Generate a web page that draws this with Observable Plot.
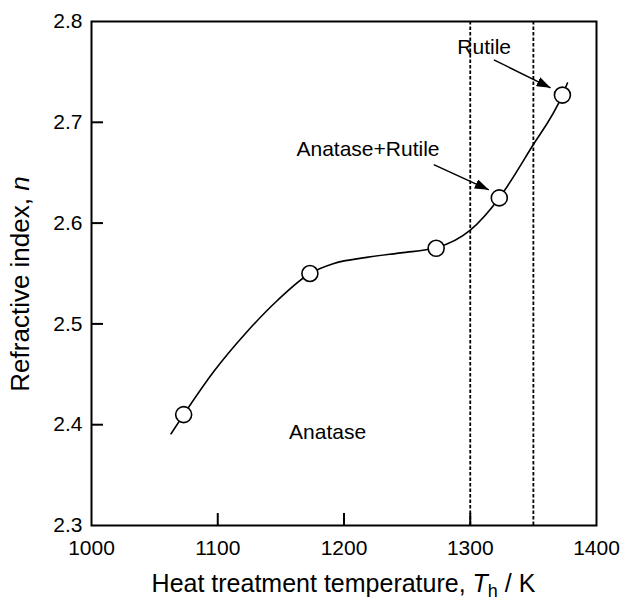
<!DOCTYPE html>
<html>
<head>
<meta charset="utf-8">
<script src="https://cdn.jsdelivr.net/npm/d3@7"></script>
<script src="https://cdn.jsdelivr.net/npm/@observablehq/plot@0.6"></script>
<style>
  html, body { margin: 0; padding: 0; background: #fff; }
  svg { display: block; }
</style>
</head>
<body>
<div id="chart"></div>
<script>
// Measured points (heat treatment temperature in K, refractive index n)
const temperature = [1073, 1173, 1273, 1323, 1373];
const refractiveIndex = [2.41, 2.55, 2.575, 2.625, 2.727];

// Smooth guide curve
const curveT = [1063, 1073, 1097, 1123, 1147, 1173, 1192, 1218, 1245, 1273, 1300, 1323, 1348, 1373, 1377];
const curveN = [2.391, 2.410, 2.453, 2.492, 2.523, 2.550, 2.560, 2.566, 2.5705, 2.5755, 2.593, 2.625, 2.674, 2.727, 2.739];

// Phase boundaries (dotted lines)
const phaseBoundaries = [1300, 1350];

// Tick values
const xTicks = [1000, 1100, 1200, 1300, 1400];
const yTicks = [2.3, 2.4, 2.5, 2.6, 2.7, 2.8];

// Annotations
const labelText = ["Rutile", "Anatase+Rutile", "Anatase"];
const labelT = [1311, 1219, 1187];
const labelN = [2.774, 2.673, 2.392];

const arrowFromT = [1318.7, 1271.1];
const arrowFromN = [2.762, 2.658];
const arrowToT = [1363.6, 1314.7];
const arrowToN = [2.7342, 2.633];

// Build tables
const points = temperature.map((t, i) => ({t, n: refractiveIndex[i]}));
const curve = curveT.map((t, i) => ({t, n: curveN[i]}));
const labels = labelText.map((s, i) => ({s, t: labelT[i], n: labelN[i]}));
const arrows = arrowFromT.map((t, i) => ({t1: t, n1: arrowFromN[i], t2: arrowToT[i], n2: arrowToN[i]}));

const W = 623, H = 601;
const mTop = 21, mBottom = 76, mLeft = 91, mRight = 27;
const innerW = W - mLeft - mRight, innerH = H - mTop - mBottom;
const tickLen = 12;

const chart = Plot.plot({
  width: W,
  height: H,
  marginTop: mTop,
  marginBottom: mBottom,
  marginLeft: mLeft,
  marginRight: mRight,
  style: {fontFamily: "'Liberation Sans', Arial, sans-serif", fontSize: "21px", background: "#fff", color: "#000"},
  x: {domain: [xTicks[0], xTicks[xTicks.length - 1]], ticks: xTicks, tickSize: 0, tickPadding: 15, tickFormat: d => String(d), label: null},
  y: {domain: [yTicks[0], yTicks[yTicks.length - 1]], ticks: yTicks, tickSize: 0, tickPadding: 9, tickFormat: d => d.toFixed(1), label: null},
  marks: [
    Plot.ruleX(phaseBoundaries, {stroke: "#000", strokeWidth: 1.8, strokeDasharray: "3.5,2"}),
    Plot.line(curve, {x: "t", y: "n", curve: "monotone-x", stroke: "#000", strokeWidth: 1.6}),
    Plot.dot(points, {x: "t", y: "n", r: 8, fill: "#fff", stroke: "#000", strokeWidth: 1.6}),
    Plot.ruleX(xTicks.slice(1, -1), {insetTop: innerH - tickLen, stroke: "#000", strokeWidth: 2}),
    Plot.ruleY(yTicks.slice(1, -1), {insetRight: innerW - tickLen, stroke: "#000", strokeWidth: 2}),
    Plot.frame({stroke: "#000", strokeWidth: 2}),
    Plot.link(arrows, {x1: "t1", y1: "n1", x2: "t2", y2: "n2", stroke: "#000", strokeWidth: 1.5}),
    Plot.text(labels, {x: "t", y: "n", text: "s", fontSize: 21, fill: "#000", textAnchor: "middle"})
  ]
});

// Filled arrowheads
const svg = d3.select(chart);
const defs = svg.append("defs");
defs.append("marker")
  .attr("id", "arrowhead")
  .attr("viewBox", "0 -5 14 10")
  .attr("refX", 14)
  .attr("refY", 0)
  .attr("markerUnits", "userSpaceOnUse")
  .attr("markerWidth", 14)
  .attr("markerHeight", 10)
  .attr("orient", "auto")
  .append("path")
  .attr("d", "M0,-5L14,0L0,5Z")
  .attr("fill", "#000");
svg.selectAll('g[aria-label="link"] path').attr("marker-end", "url(#arrowhead)");

// Axis titles
const xt = svg.append("text")
  .attr("x", mLeft + innerW / 2)
  .attr("y", 592)
  .attr("text-anchor", "middle")
  .attr("font-size", 25)
  .attr("fill", "#000");
xt.append("tspan").text("Heat treatment temperature, ");
xt.append("tspan").attr("font-style", "italic").text("T");
xt.append("tspan").attr("font-size", 18).attr("dy", 5).text("h");
xt.append("tspan").attr("dy", -5).text(" / K");

const yt = svg.append("text")
  .attr("transform", "translate(29,284) rotate(-90)")
  .attr("text-anchor", "middle")
  .attr("font-size", 26)
  .attr("fill", "#000");
yt.append("tspan").text("Refractive index, ");
yt.append("tspan").attr("font-style", "italic").text("n");

document.getElementById("chart").appendChild(chart);
</script>
</body>
</html>
